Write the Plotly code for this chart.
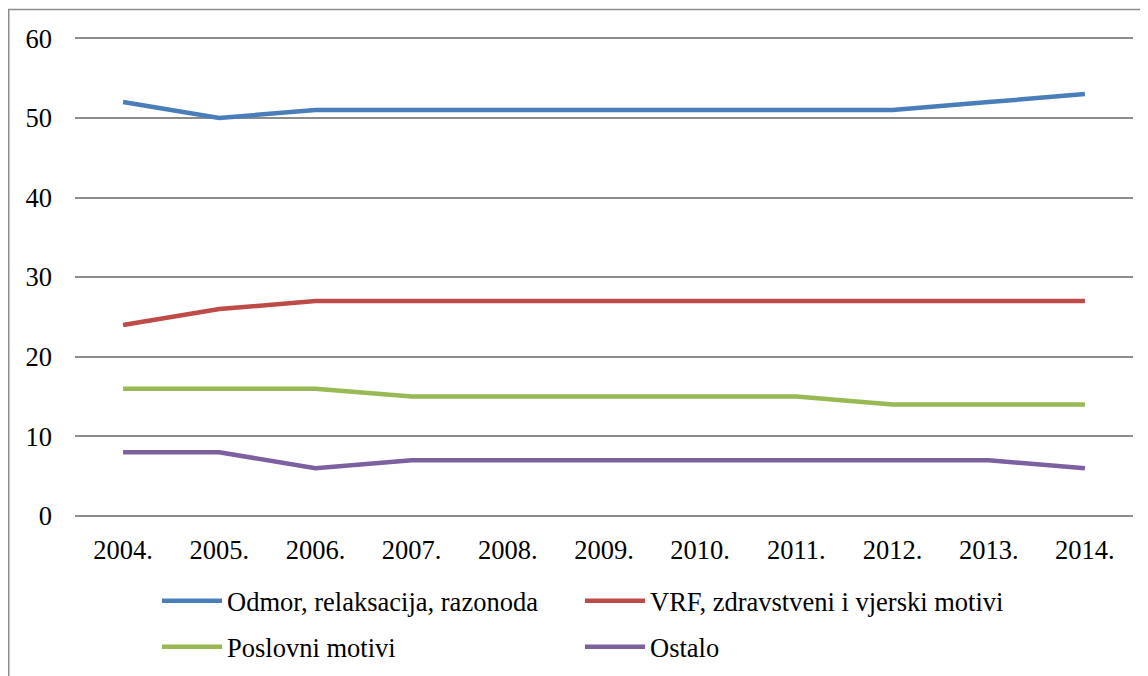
import plotly.graph_objects as go

# data
years = ["2004.", "2005.", "2006.", "2007.", "2008.", "2009.",
         "2010.", "2011.", "2012.", "2013.", "2014."]
odmor = [52, 50, 51, 51, 51, 51, 51, 51, 51, 52, 53]
vrf = [24, 26, 27, 27, 27, 27, 27, 27, 27, 27, 27]
poslovni = [16, 16, 16, 15, 15, 15, 15, 15, 14, 14, 14]
ostalo = [8, 8, 6, 7, 7, 7, 7, 7, 7, 7, 6]

FONT = "Liberation Serif, Times New Roman, serif"
FS = 26.5

# the page body adds an 8px offset, so the figure is 8px smaller
W, H = 1140, 668
ML, MR, MT, MB = 67, 15, 28, 0
PW = W - ML - MR
PH = H - MT - MB          # paper height; plot sits in the top part of it
PLOT_BOTTOM = 508         # figure px of the zero line
y_dom0 = (H - MB - PLOT_BOTTOM) / PH

# legend slot (left px, centre y px, in figure pixels) for each series
series = [
    ("Odmor, relaksacija, razonoda", odmor, "#4A7EBB", "legend", 149, 593),
    ("VRF, zdravstveni i vjerski motivi", vrf, "#BE4B48", "legend2", 572, 593),
    ("Poslovni motivi", poslovni, "#98B954", "legend3", 149, 639),
    ("Ostalo", ostalo, "#7D60A0", "legend4", 572, 639),
]

fig = go.Figure()
legends = {}
for name, vals, color, leg, lx, ly in series:
    fig.add_trace(go.Scatter(
        x=years, y=vals, name=name, mode="lines",
        line=dict(color=color, width=4.5),
        legend=leg,
    ))
    legends[leg] = dict(
        x=(lx - ML) / PW, y=(H - MB - ly) / PH,
        orientation="h",
        itemwidth=60,
        xanchor="left",
        yanchor="middle",
        font=dict(family=FONT, size=FS, color="black"),
        bgcolor="rgba(0,0,0,0)",
        itemclick=False,
    )

fig.update_layout(
    width=W, height=H,
    paper_bgcolor="white",
    plot_bgcolor="white",
    margin=dict(l=ML, r=MR, t=MT, b=MB),
    font=dict(family=FONT, size=FS, color="black"),
    showlegend=True,
    xaxis=dict(
        range=[-0.5, 10.5],
        showgrid=False, showline=False, ticks="",
        ticklabelstandoff=15,
        automargin=False,
        tickfont=dict(family=FONT, size=FS, color="black"),
    ),
    yaxis=dict(
        domain=[y_dom0, 1],
        range=[0, 60.3], dtick=10,
        showgrid=True, gridcolor="#8C8C8C", gridwidth=1.5,
        zeroline=True, zerolinecolor="#8C8C8C", zerolinewidth=1.5,
        showline=False, ticks="",
        ticklabelstandoff=22,
        automargin=False,
        tickfont=dict(family=FONT, size=FS, color="black"),
    ),
    shapes=[dict(
        type="rect", xref="paper", yref="paper",
        x0=(0.75 - ML) / PW, x1=1.2,
        y0=-0.5, y1=(H - MB - 1.5) / PH,
        line=dict(color="#8C8C8C", width=1.5),
        fillcolor="rgba(0,0,0,0)", layer="below",
    )],
    **legends,
)

fig.write_html("out.html")
